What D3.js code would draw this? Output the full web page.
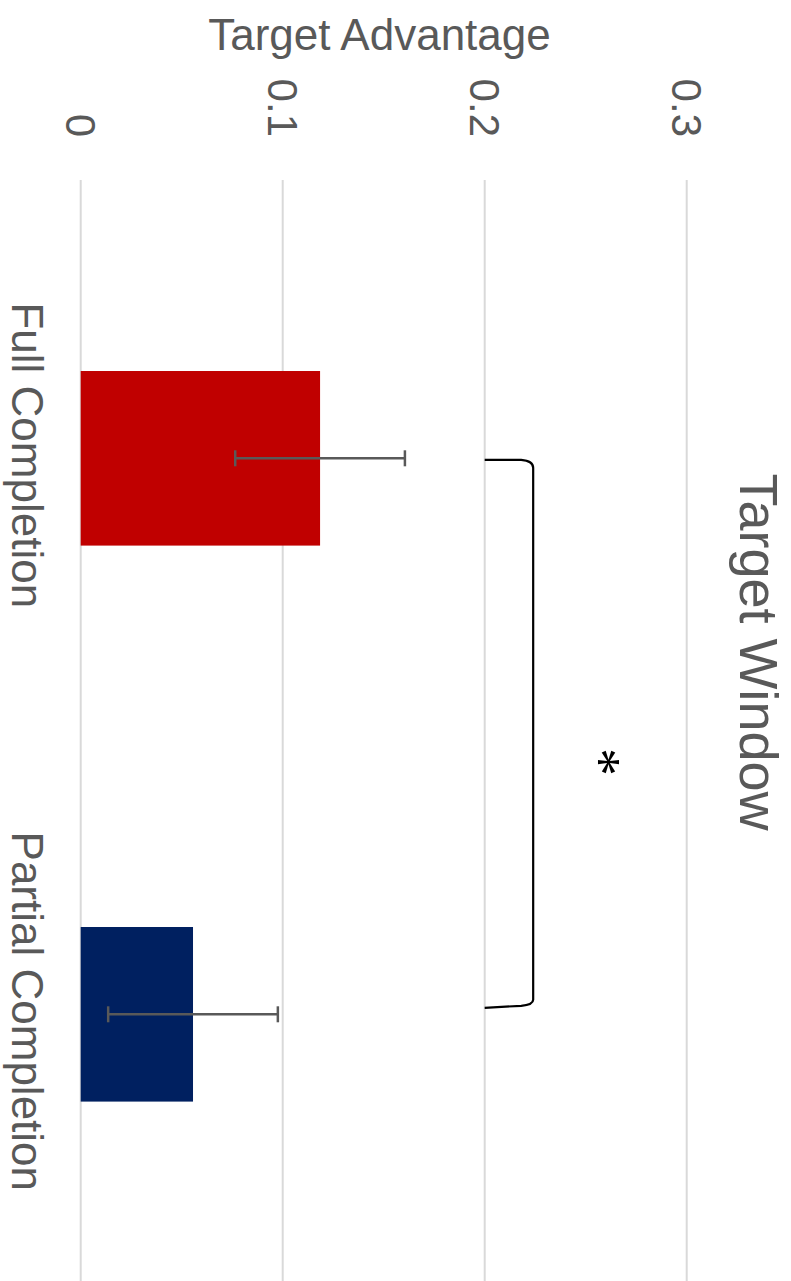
<!DOCTYPE html>
<html>
<head>
<meta charset="utf-8">
<script src="https://cdn.jsdelivr.net/npm/d3@7"></script>
<style>
  html, body { margin: 0; padding: 0; background: #fff; }
  svg { display: block; }
  text { font-family: "Liberation Sans", Arial, sans-serif; }
</style>
</head>
<body>
<script>
// ---- data ----
const categories = ["Full Completion", "Partial Completion"];
const values = [0.1185, 0.0556];
const errors = [0.042, 0.042];
const barColors = ["#C00000", "#002060"];
const tickValues = [0, 0.1, 0.2, 0.3];
const tickLabels = ["0", "0.1", "0.2", "0.3"];
const chartTitle = "Target Window";
const axisTitle = "Target Advantage";
const bracketValue = [0.2, 0.224];
const starValue = 0.2615;

const W = 791, H = 1281;
const svg = d3.select("body").append("svg").attr("width", W).attr("height", H);

// value scale (horizontal on screen)
const x = d3.scaleLinear().domain([0, 0.3]).range([80.7, 686.7]);
// category scale (vertical on screen)
const y = d3.scaleBand().domain(categories).range([180.3, 1292.3])
  .paddingInner(0.686).paddingOuter(0.343);

// gridlines
svg.append("g").selectAll("line").data(tickValues).join("line")
  .attr("x1", d => x(d)).attr("x2", d => x(d))
  .attr("y1", 180).attr("y2", H)
  .attr("stroke", "#d9d9d9").attr("stroke-width", 2);

// tick labels (rotated 90)
svg.append("g").selectAll("text").data(tickValues).join("text")
  .attr("transform", d => `translate(${x(d)},137) rotate(90)`)
  .attr("text-anchor", "end")
  .attr("dy", "0.35em")
  .attr("font-size", 42)
  .attr("fill", "#595959")
  .text((d, i) => tickLabels[i]);

// axis title
svg.append("text")
  .attr("x", 379.5).attr("y", 50)
  .attr("text-anchor", "middle")
  .attr("font-size", 44)
  .attr("fill", "#595959")
  .text(axisTitle);

// bars
svg.append("g").selectAll("rect").data(categories).join("rect")
  .attr("x", x(0)).attr("y", d => y(d))
  .attr("width", (d, i) => x(values[i]) - x(0))
  .attr("height", y.bandwidth())
  .attr("fill", (d, i) => barColors[i]);

// error bars
const eb = svg.append("g").attr("stroke", "#595959").attr("stroke-width", 2.5).attr("fill", "none");
categories.forEach((c, i) => {
  const cy = y(c) + y.bandwidth() / 2;
  const lo = x(values[i] - errors[i]), hi = x(values[i] + errors[i]);
  eb.append("line").attr("x1", lo).attr("x2", hi).attr("y1", cy).attr("y2", cy);
  eb.append("line").attr("x1", lo).attr("x2", lo).attr("y1", cy - 8).attr("y2", cy + 8);
  eb.append("line").attr("x1", hi).attr("x2", hi).attr("y1", cy - 8).attr("y2", cy + 8);
});

// category labels (rotated 90)
svg.append("g").selectAll("text").data(categories).join("text")
  .attr("transform", d => `translate(12,${y(d) + y.bandwidth() / 2 - 3}) rotate(90)`)
  .attr("text-anchor", "middle")
  .attr("font-size", 44)
  .attr("fill", "#595959")
  .text(d => d);

// chart title
svg.append("text")
  .attr("transform", `translate(740,652) rotate(90)`)
  .attr("text-anchor", "middle")
  .attr("font-size", 54)
  .attr("fill", "#595959")
  .text(chartTitle);

// significance bracket
const yTop = y(categories[0]) + y.bandwidth() / 2 + 1.5;
const yBot = y(categories[1]) + y.bandwidth() / 2 - 6.5;
const bx0 = x(bracketValue[0]), bx1 = x(bracketValue[1]);
svg.append("path")
  .attr("d", `M${bx0},${yTop} L${bx1 - 12},${yTop} Q${bx1},${yTop + 1} ${bx1},${yTop + 8}
              L${bx1},${yBot - 8} Q${bx1},${yBot - 3} ${bx1 - 12},${yBot - 2} L${bx0},${yBot}`)
  .attr("fill", "none").attr("stroke", "#000").attr("stroke-width", 2.2);

// asterisk
svg.append("text")
  .attr("transform", `translate(${x(starValue)},762) rotate(90)`)
  .attr("text-anchor", "middle")
  .attr("dy", "0.5em")
  .attr("font-size", 56)
  .style("font-family", "'Liberation Serif', 'Times New Roman', serif")
  .attr("fill", "#000")
  .text("*");
</script>
</body>
</html>
